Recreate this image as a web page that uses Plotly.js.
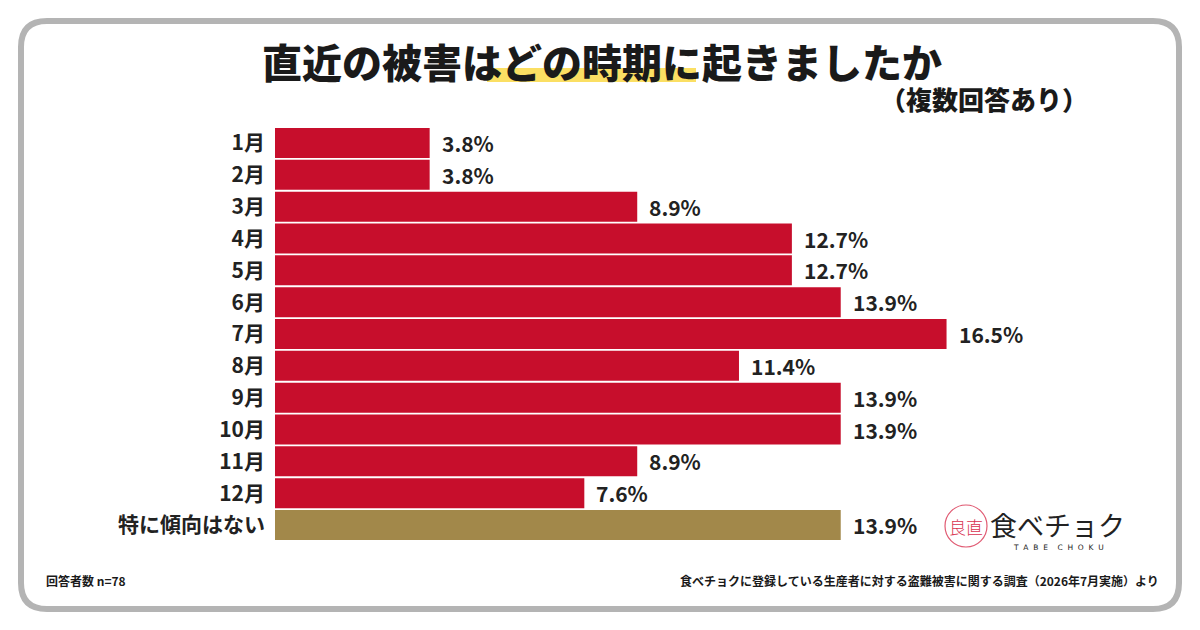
<!DOCTYPE html>
<html>
<head>
<meta charset="utf-8">
<script src="https://cdn.plot.ly/plotly-3.0.1.min.js"></script>
<style>
html,body{margin:0;padding:0;background:#ffffff;}
#chart{width:1200px;height:630px;}
</style>
</head>
<body>
<div id="chart"></div>
<script>
// ---- data ----
const categories = ["1月","2月","3月","4月","5月","6月","7月","8月","9月","10月","11月","12月","特に傾向はない"];
const values = [3.8, 3.8, 8.9, 12.7, 12.7, 13.9, 16.5, 11.4, 13.9, 13.9, 8.9, 7.6, 13.9];
const valueLabels = ["3.8%","3.8%","8.9%","12.7%","12.7%","13.9%","16.5%","11.4%","13.9%","13.9%","8.9%","7.6%","13.9%"];
const titleText = "直近の被害はどの時期に起きましたか";
const subtitleText = "（複数回答あり）";
const respondentsText = "回答者数 n=78";
const sourceText = "食べチョクに登録している生産者に対する盗難被害に関する調査（2026年7月実施）より";

// ---- layout geometry ----
const W = 1200, H = 630;
const M = {l: 275, r: 111, t: 126, b: 88};
const PW = W - M.l - M.r, PH = H - M.t - M.b;
const px = x => (x - M.l) / PW;
const py = y => (H - M.b - y) / PH;

const RED = "#C70E2C";
const GOLD = "#A2884A";
const colors = categories.map((c, i) => i === categories.length - 1 ? GOLD : RED);

const FONT = "'Noto Sans CJK JP', 'Noto Sans', sans-serif";

const trace = {
  type: "bar",
  orientation: "h",
  x: values,
  y: categories,
  marker: {color: colors, line: {width: 0}},
  hoverinfo: "skip"
};

const annotations = categories.map((c, i) => ({
  x: values[i], y: c, xref: "x", yref: "y",
  text: valueLabels[i], showarrow: false,
  xanchor: "left", xshift: 10,
  font: {family: FONT, size: 21, color: "#222222", weight: 700}
}));

// titles & footers
annotations.push(
  {xref: "paper", yref: "paper", x: px(602), y: py(61), text: titleText, showarrow: false,
   xanchor: "center", yanchor: "middle", font: {family: FONT, size: 40, color: "#1a1a1a", weight: 900}},
  {xref: "paper", yref: "paper", x: px(1090), y: py(98), text: subtitleText, showarrow: false,
   xanchor: "right", yanchor: "middle", font: {family: FONT, size: 26, color: "#1a1a1a", weight: 900}},
  {xref: "paper", yref: "paper", x: px(44), y: py(580), text: respondentsText, showarrow: false,
   xanchor: "left", yanchor: "middle", font: {family: FONT, size: 12, color: "#1a1a1a", weight: 700}},
  {xref: "paper", yref: "paper", x: px(1161), y: py(580), text: sourceText, showarrow: false,
   xanchor: "right", yanchor: "middle", font: {family: FONT, size: 12, color: "#1a1a1a", weight: 700}},
  // logo text
  {xref: "paper", yref: "paper", x: px(988), y: py(524), text: "食べチョク", showarrow: false,
   xanchor: "left", yanchor: "middle", font: {family: FONT, size: 27, color: "#222222", weight: 400}},
  {xref: "paper", yref: "paper", x: px(1058), y: py(547), text: "T  A  B  E    C  H  O  K  U", showarrow: false,
   xanchor: "center", yanchor: "middle", font: {family: "'DejaVu Sans', sans-serif", size: 7.5, color: "#222222"}},
  {xref: "paper", yref: "paper", x: px(966), y: py(526), text: "良直", showarrow: false,
   xanchor: "center", yanchor: "middle", font: {family: FONT, size: 17, color: "#D8324F", weight: 300}}
);

// rounded frame path
function roundRect(x0, y0, x1, y1, r) {
  const P = (x, y) => px(x) + "," + py(y);
  return "M" + P(x0 + r, y0) + " L" + P(x1 - r, y0) + " Q" + P(x1, y0) + " " + P(x1, y0 + r) +
    " L" + P(x1, y1 - r) + " Q" + P(x1, y1) + " " + P(x1 - r, y1) +
    " L" + P(x0 + r, y1) + " Q" + P(x0, y1) + " " + P(x0, y1 - r) +
    " L" + P(x0, y0 + r) + " Q" + P(x0, y0) + " " + P(x0 + r, y0) + " Z";
}

const shapes = [
  {type: "path", xref: "paper", yref: "paper", path: roundRect(21, 21, 1179, 609, 26),
   line: {color: "#B4B4B4", width: 6}, fillcolor: "rgba(0,0,0,0)", layer: "below"},
  // title highlight
  {type: "rect", xref: "paper", yref: "paper", x0: px(487), x1: px(696), y0: py(82), y1: py(68),
   fillcolor: "#FBDB52", line: {width: 0}, layer: "below", opacity: 0.9},
  // logo circle
  {type: "circle", xref: "paper", yref: "paper", x0: px(945), x1: px(987), y0: py(547), y1: py(505),
   line: {color: "#E05A72", width: 1.2}, fillcolor: "rgba(0,0,0,0)"}
];

const layout = {
  width: W, height: H,
  margin: M,
  paper_bgcolor: "#ffffff",
  plot_bgcolor: "rgba(0,0,0,0)",
  showlegend: false,
  bargap: 0.06,
  xaxis: {range: [0, 20], visible: false, fixedrange: true},
  yaxis: {
    autorange: "reversed", type: "category",
    showgrid: false, zeroline: false, showline: false,
    ticks: "", ticklabelstandoff: 9,
    tickfont: {family: FONT, size: 21, color: "#222222", weight: 700},
    fixedrange: true
  },
  annotations: annotations,
  shapes: shapes
};

Plotly.newPlot("chart", [trace], layout, {displayModeBar: false, staticPlot: true});
</script>
</body>
</html>
